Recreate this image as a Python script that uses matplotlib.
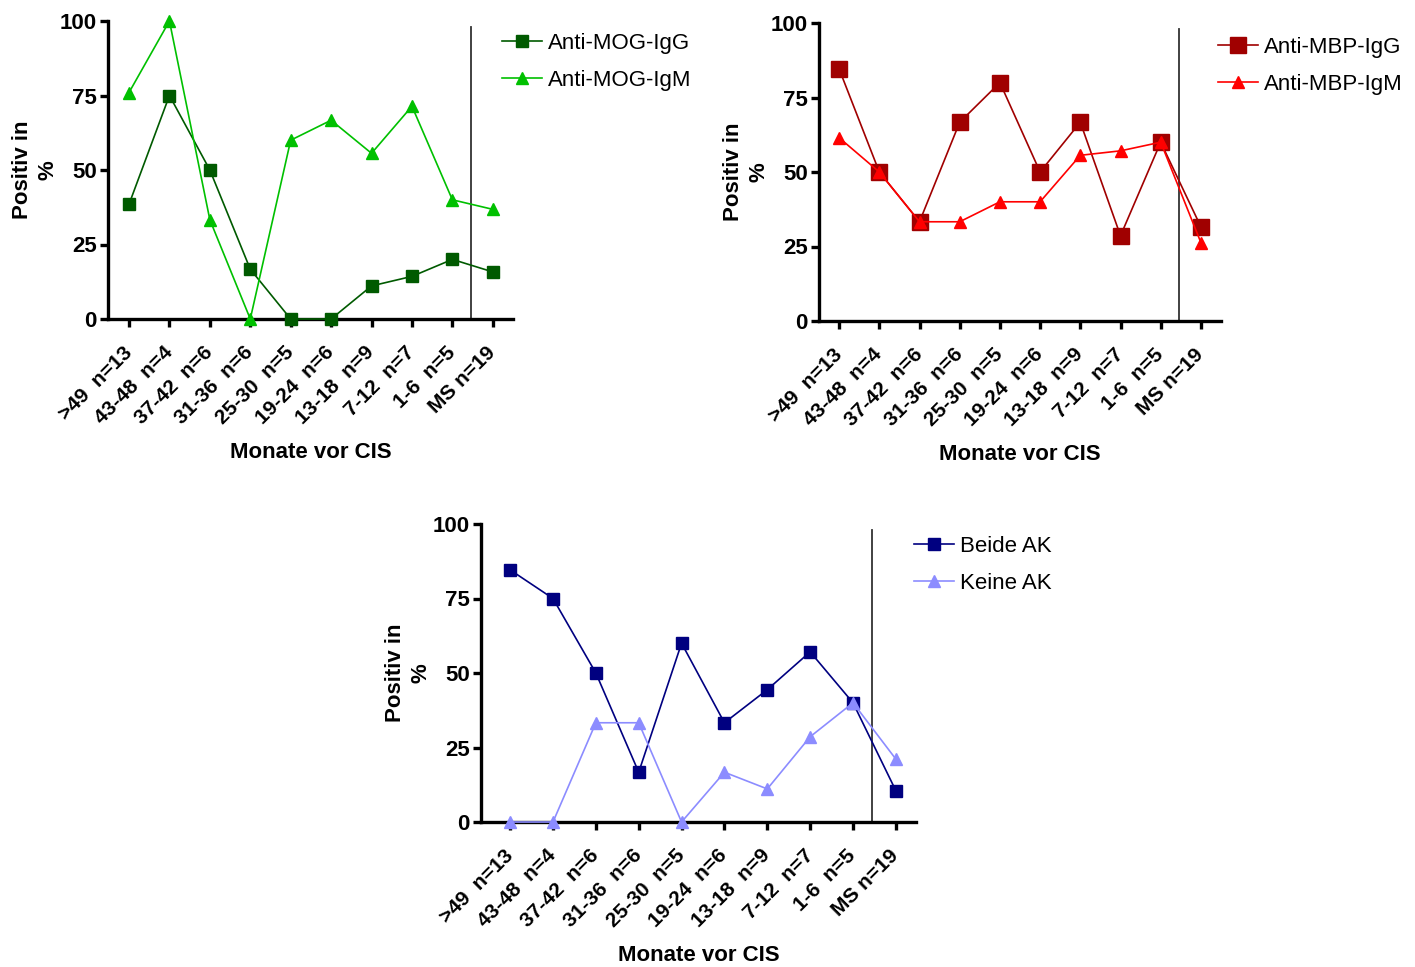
import matplotlib
matplotlib.use('Agg')
import matplotlib.pyplot as plt

plt.rcParams['font.family'] = ['Liberation Sans', 'DejaVu Sans']

# --- data ---------------------------------------------------------------
categories = [">49  n=13", "43-48  n=4", "37-42  n=6", "31-36  n=6", "25-30  n=5",
              "19-24  n=6", "13-18  n=9", "7-12  n=7", "1-6  n=5", "MS n=19"]

mog_igg = [38.5, 75.0, 50.0, 16.7, 0.0, 0.0, 11.1, 14.3, 20.0, 15.8]
mog_igm = [76.0, 100.0, 33.3, 0.0, 60.0, 66.7, 55.6, 71.4, 40.0, 36.8]

mbp_igg = [84.6, 50.0, 33.3, 66.7, 80.0, 50.0, 66.7, 28.6, 60.0, 31.6]
mbp_igm = [61.5, 50.0, 33.3, 33.3, 40.0, 40.0, 55.6, 57.1, 60.0, 26.3]

beide_ak = [84.6, 75.0, 50.0, 16.7, 60.0, 33.3, 44.4, 57.1, 40.0, 10.5]
keine_ak = [0.0, 0.0, 33.3, 33.3, 0.0, 16.7, 11.1, 28.6, 40.0, 21.1]

yticks = [0, 25, 50, 75, 100]

W, H = 1415, 967
fig = plt.figure(figsize=(W / 100, H / 100), dpi=100)


def px_axes(left, right, top, bottom):
    return fig.add_axes([left / W, 1 - bottom / H, (right - left) / W, (bottom - top) / H])


def panel(ax, s1, s2, xlim, legend_xy):
    x = list(range(len(categories)))
    l1, = ax.plot(x, s1[0], color=s1[1], marker='s', markersize=s1[2], lw=1.2,
                  label=s1[3], clip_on=False, zorder=3)
    l2, = ax.plot(x, s2[0], color=s2[1], marker='^', markersize=s2[2], lw=1.2,
                  label=s2[3], clip_on=False, zorder=3)
    ax.axvline(8.45, ymin=0, ymax=0.98, color='#333333', lw=1.3, zorder=1)
    ax.set_xlim(*xlim)
    ax.set_ylim(0, 100)
    ax.set_yticks(yticks)
    ax.set_xticks(x)
    ax.set_xticklabels(categories, rotation=45, ha='right', va='center',
                       rotation_mode='anchor', fontsize=15, fontweight='bold')
    for lab in ax.get_yticklabels():
        lab.set_fontsize(16)
        lab.set_fontweight('bold')
    for side in ('top', 'right'):
        ax.spines[side].set_visible(False)
    for side in ('left', 'bottom'):
        ax.spines[side].set_linewidth(2.4)
    ax.tick_params(axis='both', direction='out', length=6, width=2.4, pad=2)
    ax.tick_params(axis='x', pad=16)
    ax.set_xlabel("Monate vor CIS", fontsize=16, fontweight='bold', labelpad=10)
    ax.set_ylabel("Positiv in\n%", fontsize=16, fontweight='bold', labelpad=1,
                  linespacing=1.3)
    fig.legend(handles=[l1, l2], loc='upper left',
               bbox_to_anchor=(legend_xy[0] / W, 1 - legend_xy[1] / H),
               frameon=False, fontsize=16, numpoints=1, handlelength=1.8,
               handletextpad=0.25, labelspacing=0.72, borderpad=0, borderaxespad=0)


ax1 = px_axes(108, 513, 21, 319)
panel(ax1, (mog_igg, '#005a00', 8, "Anti-MOG-IgG"),
      (mog_igm, '#00c000', 9, "Anti-MOG-IgM"), (-0.52, 9.5), (502, 33))

ax2 = px_axes(819, 1221, 23, 321)
panel(ax2, (mbp_igg, '#a00000', 11, "Anti-MBP-IgG"),
      (mbp_igm, '#ff0000', 9, "Anti-MBP-IgM"), (-0.5, 9.5), (1218, 37))

ax3 = px_axes(481, 916, 524, 822)
panel(ax3, (beide_ak, '#000080', 8.5, "Beide AK"),
      (keine_ak, '#8c8cff', 9, "Keine AK"), (-0.68, 9.47), (914, 536))

fig.savefig("out.png", dpi=100)
